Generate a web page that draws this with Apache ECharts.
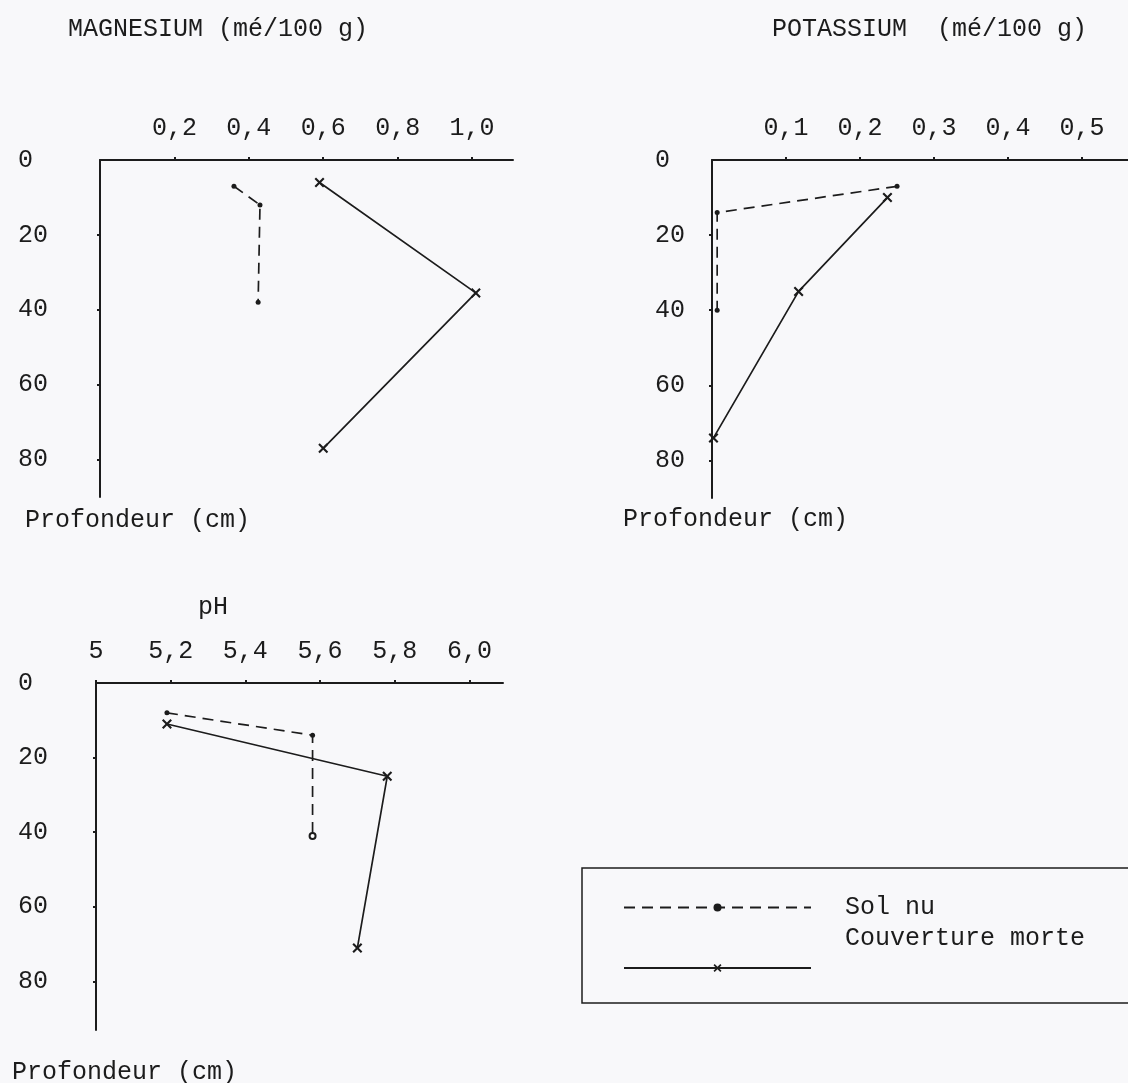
<!DOCTYPE html>
<html>
<head>
<meta charset="utf-8">
<script src="https://cdn.jsdelivr.net/npm/echarts@6/dist/echarts.min.js"></script>
<style>
  html, body { margin: 0; padding: 0; background: #f8f8fa; }
  #main { width: 1128px; height: 1083px; }
</style>
</head>
<body>
<div id="main"></div>
<script>
// depths in cm
var depthTicks = [0, 20, 40, 60, 80];

var mgTicks = [0.2, 0.4, 0.6, 0.8, 1.0];
var mgTickLabels = ['0,2', '0,4', '0,6', '0,8', '1,0'];
var mgSolDepth = [7, 12, 38];
var mgSol = [0.36, 0.43, 0.425];
var mgCouvDepth = [6, 35.5, 77];
var mgCouv = [0.59, 1.01, 0.60];

var kTicks = [0.1, 0.2, 0.3, 0.4, 0.5];
var kTickLabels = ['0,1', '0,2', '0,3', '0,4', '0,5'];
var kSolDepth = [7, 14, 40];
var kSol = [0.25, 0.007, 0.007];
var kCouvDepth = [10, 35, 74];
var kCouv = [0.237, 0.117, 0.002];

var phTicks = [5.0, 5.2, 5.4, 5.6, 5.8, 6.0];
var phTickLabels = ['5', '5,2', '5,4', '5,6', '5,8', '6,0'];
var phSolDepth = [8, 14, 41];
var phSol = [5.19, 5.58, 5.58];
var phCouvDepth = [11, 25, 71];
var phCouv = [5.19, 5.78, 5.70];

var ink = '#1c1c1c';
var paper = '#f8f8fa';
var mono = '"Liberation Mono", "DejaVu Sans Mono", monospace';
var crossPath = 'path://M0,1.5L1.5,0L5,3.5L8.5,0L10,1.5L6.5,5L10,8.5L8.5,10L5,6.5L1.5,10L0,8.5L3.5,5Z';

function pairs(xs, depths) {
  return xs.map(function (v, i) { return [v, depths[i]]; });
}

function labelFor(ticks, labels) {
  return function (v) {
    for (var i = 0; i < ticks.length; i++) {
      if (Math.abs(ticks[i] - v) < 1e-6) return labels[i];
    }
    return '';
  };
}

function xAxisFor(idx, min, max, ticks, labels) {
  return {
    type: 'value', gridIndex: idx, position: 'top', min: min, max: max,
    splitLine: { show: false },
    axisLine: { lineStyle: { color: ink, width: 2 } },
    axisTick: { customValues: ticks, length: 3, lineStyle: { color: ink, width: 2 } },
    axisLabel: {
      customValues: ticks, formatter: labelFor(ticks, labels), margin: 19,
      color: ink, fontFamily: mono, fontSize: 25
    }
  };
}

function yAxisFor(idx, max, labelMargin) {
  return {
    type: 'value', gridIndex: idx, inverse: true, min: 0, max: max,
    splitLine: { show: false },
    axisLine: { lineStyle: { color: ink, width: 2 } },
    axisTick: { customValues: [20, 40, 60, 80], length: 3, lineStyle: { color: ink, width: 2 } },
    axisLabel: {
      customValues: depthTicks, margin: labelMargin, align: 'left',
      color: ink, fontFamily: mono, fontSize: 25
    }
  };
}

function solSeries(idx, data) {
  return {
    name: 'Sol nu', type: 'line', xAxisIndex: idx, yAxisIndex: idx, data: data,
    clip: false, symbol: 'circle', symbolSize: 5,
    lineStyle: { color: ink, width: 1.7, type: [11, 7] },
    itemStyle: { color: ink }
  };
}

function couvSeries(idx, data) {
  return {
    name: 'Couverture morte', type: 'line', xAxisIndex: idx, yAxisIndex: idx, data: data,
    clip: false, symbol: crossPath, symbolSize: 10,
    lineStyle: { color: ink, width: 1.7 },
    itemStyle: { color: ink }
  };
}

var phSolData = pairs(phSol, phSolDepth);
// last bare-soil pH point is drawn as an open circle
phSolData[2] = { value: phSolData[2], symbol: 'emptyCircle', symbolSize: 6 };

function txt(text, left, top) {
  return { text: text, left: left, top: top, padding: 0,
    textStyle: { color: ink, fontFamily: mono, fontSize: 25, fontWeight: 'normal' } };
}

function legendFor(name, top, extra) {
  var textStyle = { color: ink, fontFamily: mono, fontSize: 25, padding: [0, 0, 0, 29] };
  for (var k in extra) textStyle[k] = extra[k];
  return {
    orient: 'vertical', left: 623, top: top, padding: 0,
    itemWidth: 187, itemHeight: 10, selectedMode: false,
    textStyle: textStyle,
    formatter: extra.lineHeight ? function (n) { return n + '\n'; } : '{name}',
    data: [name]
  };
}

var chart = echarts.init(document.getElementById('main'), null, { renderer: 'canvas' });

var option = {
  backgroundColor: paper,
  animation: false,
  title: [
    txt('MAGNESIUM (mé/100 g)', 68, 17),
    txt('POTASSIUM  (mé/100 g)', 772, 17),
    txt('Profondeur (cm)', 25, 508),
    txt('Profondeur (cm)', 623, 507),
    txt('pH', 198, 595),
    txt('Profondeur (cm)', 12, 1060)
  ],
  grid: [
    { left: 100, top: 160, width: 413, height: 337 },
    { left: 712, top: 160, width: 416, height: 338 },
    { left: 96, top: 683, width: 407, height: 347 }
  ],
  xAxis: [
    xAxisFor(0, 0, 1.11, mgTicks, mgTickLabels),
    xAxisFor(1, 0, 0.562, kTicks, kTickLabels),
    xAxisFor(2, 5, 6.09, phTicks, phTickLabels)
  ],
  yAxis: [
    yAxisFor(0, 90, 82),
    yAxisFor(1, 90, 57),
    yAxisFor(2, 93, 78)
  ],
  legend: [
    legendFor('Sol nu', 895, {}),
    // text of the second entry sits higher than its line sample
    legendFor('Couverture morte', 908, { lineHeight: 60 })
  ],
  graphic: [{
    type: 'rect', shape: { x: 582, y: 868, width: 560, height: 135 },
    style: { fill: 'none', stroke: ink, lineWidth: 1.5 }
  }],
  series: [
    solSeries(0, pairs(mgSol, mgSolDepth)),
    couvSeries(0, pairs(mgCouv, mgCouvDepth)),
    solSeries(1, pairs(kSol, kSolDepth)),
    couvSeries(1, pairs(kCouv, kCouvDepth)),
    solSeries(2, phSolData),
    couvSeries(2, pairs(phCouv, phCouvDepth))
  ]
};

chart.setOption(option);
</script>
</body>
</html>
